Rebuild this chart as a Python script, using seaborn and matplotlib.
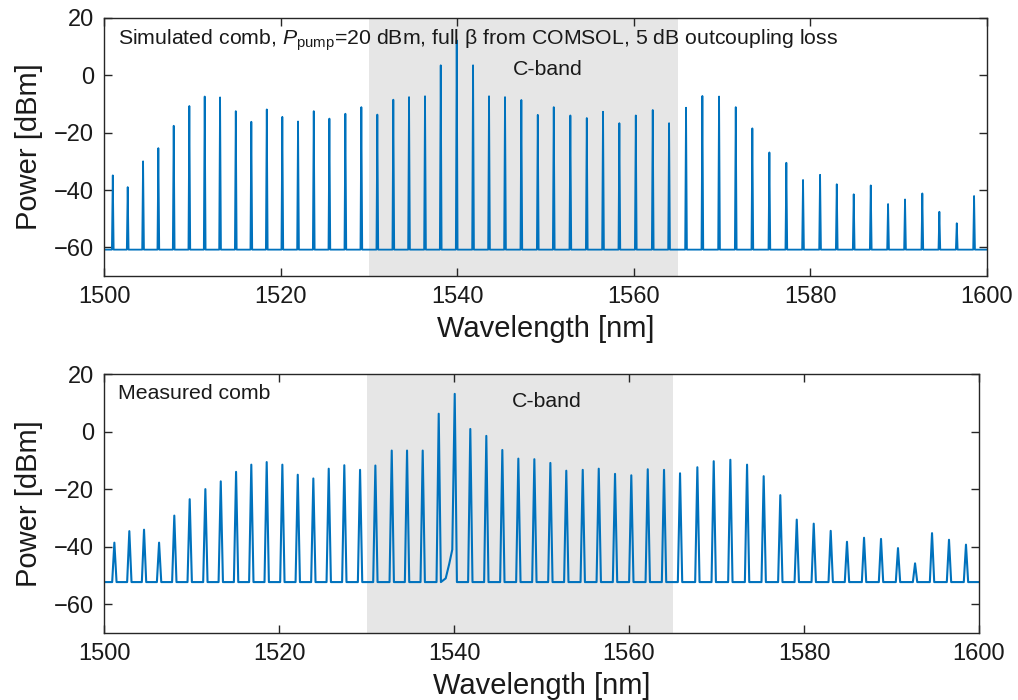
"""
Kerr comb spectra: simulated vs measured, 1500-1600 nm, C-band highlighted.
"""
import matplotlib
matplotlib.use("Agg")
import matplotlib.pyplot as plt
import numpy as np
import seaborn as sns

# --- comb line positions [nm] and peak powers [dBm] ---
sim_wl = [1500.99, 1502.68, 1504.42, 1506.15, 1507.89, 1509.66, 1511.40, 1513.14, 1514.92,
          1516.68, 1518.43, 1520.19, 1521.97, 1523.75, 1525.52, 1527.33, 1529.14, 1530.95,
          1532.76, 1534.54, 1536.35, 1538.13, 1539.94, 1541.79, 1543.60, 1545.41, 1547.26,
          1549.12, 1550.93, 1552.81, 1554.67, 1556.51, 1558.36, 1560.22, 1562.14, 1563.99,
          1565.91, 1567.76, 1569.65, 1571.54, 1573.42, 1575.35, 1577.27, 1579.16, 1581.09,
          1582.98, 1584.90, 1586.83, 1588.79, 1590.71, 1592.67, 1594.60, 1596.57, 1598.53]
sim_db = [-34.9, -39.0, -30.0, -25.4, -17.6, -10.7, -7.4, -7.7, -12.5,
          -16.2, -11.9, -14.5, -16.1, -12.5, -15.1, -13.4, -11.1, -13.7,
          -8.5, -7.6, -7.3, 3.5, 12.2, 3.5, -7.3, -7.6, -8.6,
          -13.8, -11.1, -14.0, -14.9, -12.7, -16.7, -14.0, -12.1, -16.7,
          -11.3, -7.2, -7.4, -11.1, -18.5, -26.9, -30.5, -36.5, -34.7,
          -38.0, -41.5, -38.4, -44.9, -43.3, -41.2, -47.6, -51.6, -42.1]
sim_floor = -60.8

meas_wl = [1501.18, 1502.89, 1504.57, 1506.29, 1508.03, 1509.79, 1511.58, 1513.34, 1515.09,
           1516.83, 1518.59, 1520.38, 1522.14, 1523.92, 1525.68, 1527.46, 1529.26, 1531.01,
           1532.88, 1534.63, 1536.42, 1538.25, 1540.08, 1541.86, 1543.69, 1545.52, 1547.35,
           1549.18, 1551.01, 1552.83, 1554.71, 1556.54, 1558.40, 1560.26, 1562.14, 1564.00,
           1565.83, 1567.81, 1569.68, 1571.58, 1573.49, 1575.39, 1577.29, 1579.17, 1581.11,
           1583.05, 1584.91, 1586.86, 1588.80, 1590.74, 1592.69, 1594.63, 1596.57, 1598.51]
meas_db = [-38.6, -34.6, -34.1, -38.6, -29.2, -23.5, -20.0, -17.3, -14.0,
           -11.5, -10.6, -11.5, -15.0, -16.3, -12.9, -11.7, -13.3, -11.8,
           -6.6, -6.6, -6.6, 6.2, 13.1, 0.9, -1.5, -6.4, -9.4,
           -9.6, -10.9, -13.6, -13.3, -12.9, -14.7, -15.2, -13.1, -13.3,
           -14.5, -12.4, -10.3, -9.8, -11.5, -15.5, -22.1, -30.6, -32.0,
           -34.5, -38.3, -36.9, -37.3, -40.5, -45.8, -35.3, -37.6, -39.3]
meas_floor = -52.3
# shoulder on the blue side of the measured pump line
meas_extra_wl = [1539.05, 1539.45, 1539.80]
meas_extra_db = [-51.0, -46.0, -41.0]

cband = (1530, 1565)
x_ticks = [1500, 1520, 1540, 1560, 1580, 1600]
y_ticks = [-60, -40, -20, 0, 20]

LINE_COLOR = "#0072BD"
SPINE = "#262626"
TXT = "#1a1a1a"


def comb_trace(wl, db, floor, half_width, extra_wl=(), extra_db=()):
    """Join every comb line to the floor with a narrow spike."""
    pts = [(1500.0, floor, "base"), (1600.0, floor, "base")]
    for w, p in zip(wl, db):
        pts += [(w - half_width, floor, "base"), (w, p, "line"), (w + half_width, floor, "base")]
    pts += [(w, p, "extra") for w, p in zip(extra_wl, extra_db)]
    if len(extra_wl):
        lo, hi = min(extra_wl), max(extra_wl) + half_width
        pts = [q for q in pts if not (q[2] == "base" and lo < q[0] < hi)]
    pts.sort(key=lambda q: q[0])
    return np.array([q[0] for q in pts]), np.array([q[1] for q in pts])


def style_axes(ax):
    ax.set_xlim(1500, 1600)
    ax.set_ylim(-70, 20)
    ax.set_xticks(x_ticks)
    ax.set_yticks(y_ticks)
    ax.tick_params(direction="in", length=6, width=1, top=True, right=True,
                   labelsize=17, color=SPINE, labelcolor=TXT, pad=7)
    for s in ax.spines.values():
        s.set_visible(True)
        s.set_color(SPINE)
        s.set_linewidth(1.0)
    ax.set_xlabel("Wavelength [nm]", fontsize=21, color=TXT, labelpad=5)
    ax.set_ylabel("Power [dBm]", fontsize=21, color=TXT, labelpad=8)
    ax.axvspan(*cband, color="#e6e6e6", zorder=0, lw=0)


sns.set_style("ticks")
plt.rcParams["font.family"] = ["Liberation Sans", "DejaVu Sans"]
plt.rcParams["mathtext.fontset"] = "custom"
plt.rcParams["mathtext.it"] = "Liberation Sans:italic"
plt.rcParams["mathtext.rm"] = "Liberation Sans"

fig = plt.figure(figsize=(10.18, 7.0), dpi=100)
ax_top = fig.add_axes([0.1022, 0.6057, 0.8674, 0.3686])
ax_bot = fig.add_axes([0.1022, 0.0957, 0.8595, 0.3700])

x, y = comb_trace(sim_wl, sim_db, sim_floor, 0.10)
sns.lineplot(x=x, y=y, ax=ax_top, sort=False, estimator=None, color=LINE_COLOR, lw=1.3)
style_axes(ax_top)
ax_top.text(0.016, 0.913,
            r"Simulated comb, $\mathit{P}_{\mathrm{pump}}$=20 dBm, full β from COMSOL, 5 dB outcoupling loss",
            transform=ax_top.transAxes, fontsize=15.3, color=TXT, va="center")
ax_top.text(1550.2, 2.0, "C-band", fontsize=15.3, color=TXT, ha="center", va="center")

x, y = comb_trace(meas_wl, meas_db, meas_floor, 0.25, meas_extra_wl, meas_extra_db)
sns.lineplot(x=x, y=y, ax=ax_bot, sort=False, estimator=None, color=LINE_COLOR, lw=1.5)
style_axes(ax_bot)
ax_bot.text(0.016, 0.923, "Measured comb", transform=ax_bot.transAxes,
            fontsize=15.3, color=TXT, va="center")
ax_bot.text(1550.6, 10.3, "C-band", fontsize=15.3, color=TXT, ha="center", va="center")

fig.savefig("out.png", dpi=100)
